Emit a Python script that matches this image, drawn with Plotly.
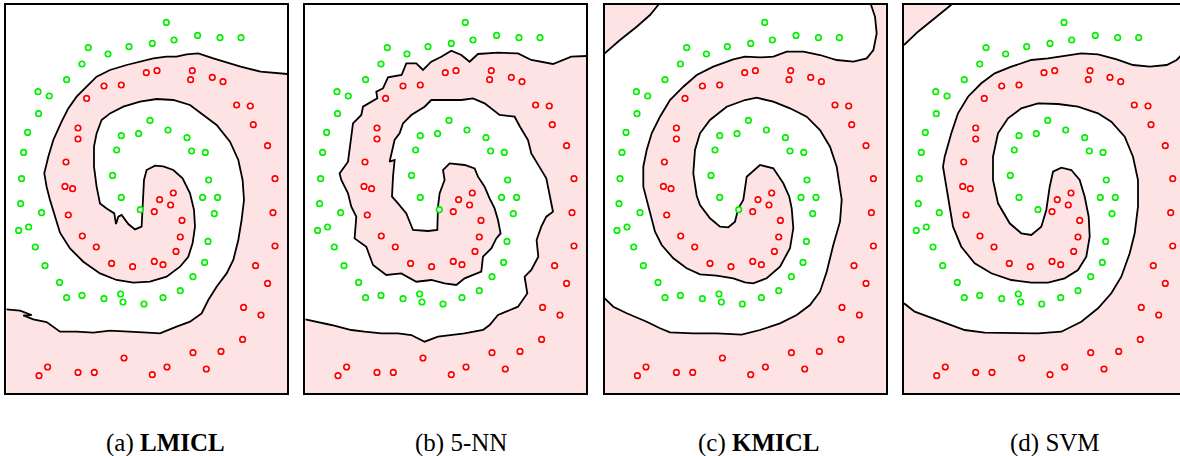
import plotly.graph_objects as go

# ---------------- data (panel units: x right, y down) ----------------
green_x = [160, 191.3, 213.7, 234.7, 167.7, 146, 122.7, 82, 101.7, 75.7, 60.3, 31.7, 43, 32.3, 21.3,
           17.3, 15.3, 14.3, 35.3, 22.3, 12.3, 29, 38.7, 53.3, 60.3, 75.7, 97.7, 114.3, 116.7, 137.7,
           156.7, 174, 186.7, 198.3, 201.7, 208, 196.3, 211.3, 202.3, 199, 185.3, 180.7, 161.7, 143.7,
           132.3, 115, 110.3, 106.3, 115, 134]
green_y = [17.7, 30.7, 33, 33, 35.3, 38.7, 42, 43, 49.3, 59.3, 75, 87, 91.3, 109, 127.7,
           147.7, 174, 199, 208, 222.3, 225.7, 242.3, 261, 277.7, 293, 290.7, 294, 289.3, 297.3, 299.3,
           293, 286, 272, 257.7, 236.7, 209, 192.7, 192.7, 175.3, 147.7, 146.3, 133, 125.3, 115.7,
           129, 131, 145.3, 170.7, 192.7, 205]
red_x = [140, 150.7, 186, 184.3, 206, 216.7, 97.7, 115, 80.3, 230.3, 244, 247, 71.7, 71.7, 261.3,
         59.7, 268.7, 58.7, 66.3, 62, 266.7, 167, 153.3, 164.3, 148, 175.7, 174, 169.7, 76, 90,
         268.7, 105.3, 126.3, 148, 156.7, 249.3, 261.3, 237.3, 254.7, 236.3, 186.7, 214.7, 117.7, 41.3, 32.7,
         71.7, 88, 160.7, 146, 200]
red_y = [68, 66, 66, 75, 72.7, 77, 81.3, 80.3, 93.7, 100.3, 101.3, 120, 123.3, 134.3, 141,
         157.3, 174, 181.7, 184, 210.3, 208, 188.3, 195, 200.3, 207, 215.7, 232.3, 246.7, 231.3, 242.3,
         241.3, 258.7, 262, 256.7, 260, 261, 278.7, 302.7, 310.3, 334.7, 348, 346.7, 353.3, 362.3, 371,
         367.7, 367.7, 362.3, 370, 364.3]

# decision boundaries (one spiral curve per panel, from right/top edge to left edge)
a_bx = [281, 254.3, 234.3, 220.3, 207, 192, 180.3, 170.3, 160.3, 147, 133.7, 120.3, 103.7, 90.3, 80.3,
        70.3, 62, 55.3, 47, 42, 38, 40.3, 43.7, 48.7, 53.7, 63.7, 77, 93.7, 110.3, 127, 143.7, 160.3,
        173.7, 182, 186.3, 188.7, 187.7, 183.7, 176.3, 167, 157, 148.7, 140.3, 137.7, 137, 136.3, 135.3,
        128.7, 122, 115.3, 112, 109.7, 108, 100.3, 93.7, 90.3, 87.7, 87.7, 90.3, 95.3, 103.7, 117, 133.7,
        150.3, 167, 183.7, 197, 210.3, 223.7, 232, 236.3, 237.7, 235.3, 232, 227, 220.3, 210.3, 202,
        195.3, 183.7, 170.3, 153.7, 137, 120.3, 103.7, 87, 70.3, 53.7, 40.3, 27, 17, 25.3, 13.7, 0]
a_by = [69.3, 67, 62, 58, 53.7, 48.7, 49.7, 52, 52, 53.7, 57, 60.3, 65.3, 72, 82,
        92, 103.7, 117, 135.3, 152, 168.7, 182, 195.3, 212, 228, 243.7, 257, 268.7, 275.3, 278, 277, 272,
        262, 252, 238.7, 222, 205.3, 188.7, 173.7, 165.3, 161.7, 161, 165.3, 175.3, 192, 208.7, 222,
        224.7, 219.3, 210.3, 212, 219.3, 208.7, 203.7, 198.7, 182, 162, 142, 128.7, 115.3, 108.7, 102, 97,
        94.3, 95.3, 100.3, 110.3, 120.3, 137, 155.3, 175.3, 195.3, 215.3, 235.3, 255.3, 268.7, 282, 295.3,
        308.7, 317, 322, 328.7, 327.7, 327, 326, 328, 327, 327, 317.3, 314.7, 310.7, 310.3, 306, 304.7]

b_bx = [281.3, 266, 247.7, 226, 212.7, 192.7, 172.7, 164.3, 156, 146, 136, 126, 117.7, 111, 101,
        96.3, 82.7, 77.7, 71, 72, 57.7, 56, 47.7, 46, 44.3, 42.7, 34.3, 36, 42.7, 46, 51, 50, 49.3,
        61, 67.7, 81, 96, 111, 126, 139.3, 151, 159.3, 176, 177.7, 186, 191, 195.3, 192.7, 189.3, 184.3,
        179.3, 172.7, 169.3, 159.3, 144.3, 137.7, 139.3, 134.3, 132.7, 132, 122.7, 107.7, 101, 92.7,
        86.7, 87.7, 89.3, 84.3, 89.3, 94.3, 97.7, 106, 119.3, 126, 139.3, 156, 167.7, 179.3, 194.3,
        209.3, 214.7, 222.7, 226, 232.7, 241, 247.7, 241, 236, 231.3, 233, 226, 219.3, 222, 212.7,
        192.7, 184.3, 177.7, 159.3, 146, 132.7, 119.3, 106, 92.7, 76, 59.3, 46, 26, 0]
b_by = [51.3, 52, 59.3, 55.3, 48.7, 48, 49.3, 57, 50.3, 46, 52, 57, 65.3, 58.7, 58.7,
        70.3, 72.7, 83.7, 87, 93.7, 102, 110.3, 118.7, 132, 145.3, 157, 168.7, 175.3, 188.7, 202, 212,
        225.3, 233.7, 242, 260.3, 270.3, 268.7, 277, 275.3, 278.7, 280.3, 273.7, 267, 252, 243.7, 233.7,
        228.7, 215.3, 203.7, 193.7, 182, 172, 163.7, 160.3, 158.7, 165.3, 175.3, 188.7, 202, 225.3,
        226.3, 225.3, 208.7, 198.7, 192, 172, 155.3, 157, 135.3, 128.7, 118.7, 110.3, 102, 95.3, 95.3,
        95.3, 93.7, 98.7, 110.3, 112, 122, 135.3, 148.7, 160.3, 173.7, 207, 212, 222, 235.3, 252,
        265.3, 272, 288.7, 302, 310.3, 320.3, 325.3, 328.7, 330.3, 332, 337, 330.3, 328.7, 328.7, 327,
        325.3, 320.3, 314.7]

c_bx = [266.3, 270.3, 272, 268.7, 262, 248.7, 232, 215.3, 198.7, 182, 168.7, 155.3, 140.3, 128.6,
        108.6, 92, 78.6, 65.3, 55.3, 47, 42, 38.6, 38.6, 42, 45.3, 50.3, 57, 68.6, 82, 95.3, 112,
        128.6, 140.3, 148.6, 162, 175.3, 185.3, 188.6, 187, 184.6, 178.6, 168.6, 155.3, 142, 138.6,
        133.6, 130.3, 123.6, 115.3, 105.3, 95.3, 92, 88.6, 90.3, 95.3, 105.3, 122, 140.3, 152, 168.6,
        185.3, 202, 215.3, 225.3, 232, 235.3, 237, 235.3, 228.6, 222, 215.3, 205.3, 192, 175.3, 155.3,
        137, 112, 88.6, 65.3, 55.3, 42, 22, 8.6, 0]
c_by = [0, 12, 28.7, 45.3, 53.7, 57, 55.3, 50.3, 47, 47, 52, 52.7, 52, 54.7,
        62, 70.3, 82, 95.3, 112, 128.6, 145.3, 162, 182, 195, 210.3, 227, 240.3, 253.6, 263.6, 269.6, 271,
        273.6, 277.6, 278.6, 273.6, 262, 243.6, 223.6, 203.6, 192, 178.6, 163.6, 160.3, 172, 195.3,
        203.6, 217, 222.6, 222, 213.6, 200.3, 191, 168.6, 145.3, 128.6, 115.3, 102, 95.3, 93, 97,
        103.6, 112, 125.3, 142, 162, 181.3, 195, 217, 240.3, 267, 287, 300.3, 310.3, 318.6, 325.3,
        330, 328.6, 328.6, 327.6, 323.6, 317, 308.6, 302, 293.6]
c_cornx = [0, 15.3, 32, 45.3, 53.7]
c_corny = [48.7, 35.3, 22, 10.3, 0]

d_bx = [282, 276, 272.7, 262.7, 246, 229, 212.7, 194, 177.3, 160.7, 144, 127.3, 107.3, 90.7, 77.3,
        64, 54, 47.3, 40.7, 39, 42.3, 45.7, 49, 57.3, 70.7, 87.3, 107.3, 127.3, 144, 160.7, 174, 182.3,
        185.7, 184.7, 180.7, 175.7, 167.3, 157.3, 149, 145.7, 142.3, 137.3, 127.3, 117.3, 105.7, 94, 89,
        89, 94, 104, 117.3, 134, 154, 174, 194, 207.3, 220.7, 229, 234, 234, 230.7, 225.7, 217.3, 207.3,
        194, 177.3, 157.3, 134, 107.3, 80.7, 60.7, 34, 10.7, 0]
d_by = [42, 52, 55.3, 60.3, 62, 60.3, 54.6, 49.7, 48.7, 51.3, 53.6, 55.3, 62, 68.6, 78.6,
        92, 108.6, 128.6, 152, 162, 182, 202, 222, 242, 258.6, 268.6, 275.3, 278, 278, 273.6, 265.3, 252,
        232, 212, 192, 175.3, 165.3, 163, 167, 182, 205.3, 222, 230.3, 228.6, 218.6, 198.6, 175.3,
        152, 128.6, 113.6, 103.6, 98.6, 99.3, 102, 108.6, 117, 132, 152, 175.3, 202, 228.6, 248.6, 272,
        288.6, 303.6, 317, 327, 328.6, 328.6, 328, 325.3, 315.3, 307, 298.6]
d_cornx = [0, 14, 30.7, 47.3]
d_corny = [40.3, 27, 13.6, 0]

captions = ["(a) <b>LMICL</b>", "(b) 5-NN", "(c) <b>KMICL</b>", "(d) SVM"]

# ---------------- layout geometry ----------------
W, H = 1180, 456
PW, PH = 281, 388.6
panel_left = [6.3, 305.3, 604.7, 904]
panel_top, panel_bot = 4.7, 393.3
caption_cx = [165, 461, 759, 1055]
PINK = "rgb(253,227,227)"
GREEN = "rgb(0,240,0)"
RED = "rgb(255,0,0)"

fig = go.Figure()

boundaries = [(a_bx, a_by), (b_bx, b_by), (c_bx, c_by), (d_bx, d_by)]
corners = [None, None, (c_cornx, c_corny), (d_cornx, d_corny)]

for i in range(4):
    ax = "x" if i == 0 else f"x{i+1}"
    ay = "y" if i == 0 else f"y{i+1}"
    bx, by = boundaries[i]
    # pink region: boundary + bottom-left, bottom-right, top-right corners
    px = list(bx) + [0, 0, PW + 2, PW + 2]
    py = list(by) + [by[-1], PH + 2, PH + 2, -2]
    if i == 2:
        px = list(bx) + [0, 0, PW + 2, PW + 2, bx[0]]
        py = list(by) + [by[-1], PH + 2, PH + 2, -2, -2]
    fig.add_trace(go.Scatter(x=px, y=py, fill="toself", fillcolor=PINK, mode="none",
                             hoverinfo="skip", showlegend=False, xaxis=ax, yaxis=ay))
    if corners[i] is not None:
        cx, cy = corners[i]
        fig.add_trace(go.Scatter(x=list(cx) + [-2, -2], y=list(cy) + [-2, cy[0]], fill="toself",
                                 fillcolor=PINK, mode="none", hoverinfo="skip", showlegend=False,
                                 xaxis=ax, yaxis=ay))
        fig.add_trace(go.Scatter(x=cx, y=cy, mode="lines", line=dict(color="black", width=1.8),
                                 hoverinfo="skip", showlegend=False, xaxis=ax, yaxis=ay))
    fig.add_trace(go.Scatter(x=bx, y=by, mode="lines", line=dict(color="black", width=1.8),
                             hoverinfo="skip", showlegend=False, xaxis=ax, yaxis=ay))
    fig.add_trace(go.Scatter(x=green_x, y=green_y, mode="markers",
                             marker=dict(symbol="circle", size=5.5, color="white",
                                         line=dict(color=GREEN, width=1.7)),
                             showlegend=False, xaxis=ax, yaxis=ay))
    fig.add_trace(go.Scatter(x=red_x, y=red_y, mode="markers",
                             marker=dict(symbol="circle", size=5.5, color="white",
                                         line=dict(color=RED, width=1.7)),
                             showlegend=False, xaxis=ax, yaxis=ay))

layout = dict(width=W, height=H, margin=dict(l=0, r=0, t=0, b=0),
              paper_bgcolor="white", plot_bgcolor="white", showlegend=False)
ydom = [1 - panel_bot / H, 1 - panel_top / H]
for i in range(4):
    xk = "xaxis" if i == 0 else f"xaxis{i+1}"
    yk = "yaxis" if i == 0 else f"yaxis{i+1}"
    left = panel_left[i]
    right = min(left + PW, W)
    xr = [0, right - left]
    layout[xk] = dict(domain=[left / W, right / W], range=xr, showgrid=False, zeroline=False,
                      showticklabels=False, ticks="", showline=True, mirror=True,
                      linecolor="black", linewidth=1.6, anchor="y" if i == 0 else f"y{i+1}")
    layout[yk] = dict(domain=ydom, range=[PH, 0], showgrid=False, zeroline=False,
                      showticklabels=False, ticks="", showline=True, mirror=(i < 3),
                      linecolor="black", linewidth=1.6, anchor="x" if i == 0 else f"x{i+1}")

annotations = []
for i, t in enumerate(captions):
    annotations.append(dict(text=t, x=caption_cx[i] / W, y=1 - 443 / H, xref="paper", yref="paper",
                            xanchor="center", yanchor="middle", showarrow=False,
                            font=dict(family="Liberation Serif", size=25, color="black")))
layout["annotations"] = annotations
fig.update_layout(**layout)
fig.write_html("out.html", config={"displayModeBar": False},
               post_script="document.body.style.margin='0';document.body.style.padding='0';"
                           "document.body.style.overflow='hidden';")
